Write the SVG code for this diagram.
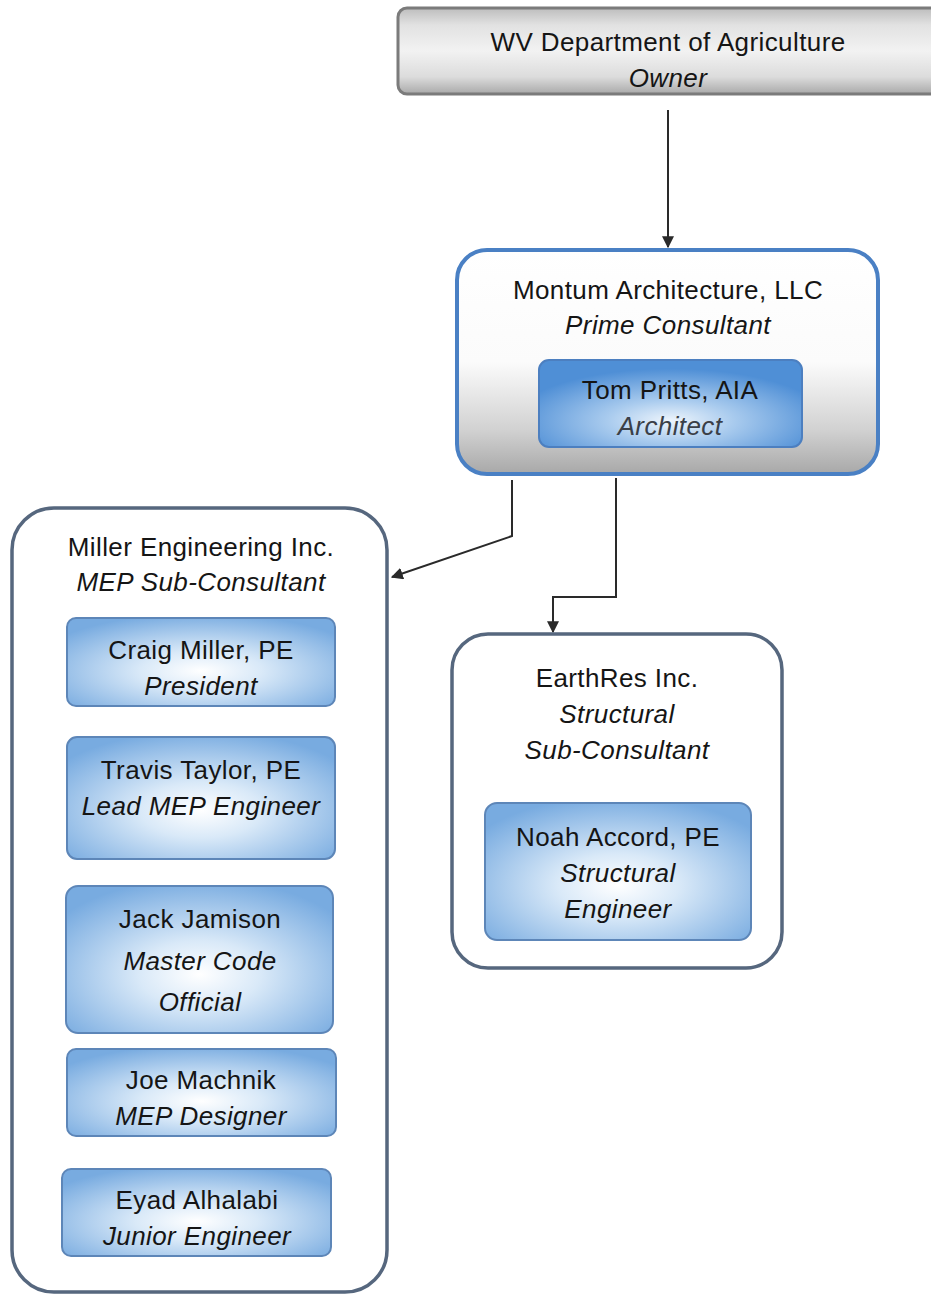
<svg xmlns="http://www.w3.org/2000/svg" width="931" height="1295" viewBox="0 0 931 1295">
<defs>
<linearGradient id="gOwner" x1="0" y1="0" x2="0" y2="1">
<stop offset="0" stop-color="#bdbdbd"/>
<stop offset="0.2" stop-color="#e2e2e2"/>
<stop offset="0.5" stop-color="#f2f2f2"/>
<stop offset="0.8" stop-color="#dcdcdc"/>
<stop offset="1" stop-color="#a9a9a9"/>
</linearGradient>
<linearGradient id="gPrime" x1="0" y1="0" x2="0" y2="1">
<stop offset="0" stop-color="#ffffff"/>
<stop offset="0.5" stop-color="#fbfbfb"/>
<stop offset="0.8" stop-color="#d2d2d2"/>
<stop offset="1" stop-color="#a8a8a8"/>
</linearGradient>
<radialGradient id="gPerson" cx="0.5" cy="0.6" r="0.65">
<stop offset="0" stop-color="#ffffff"/>
<stop offset="0.35" stop-color="#d9e9f8"/>
<stop offset="1" stop-color="#78abe0"/>
</radialGradient>
<radialGradient id="gTom" cx="0.5" cy="0.7" r="0.6">
<stop offset="0" stop-color="#eef5fc"/>
<stop offset="0.4" stop-color="#a9cbee"/>
<stop offset="1" stop-color="#4f8fd6"/>
</radialGradient>
<marker id="arr" viewBox="0 0 10 10" refX="9" refY="5" markerWidth="12" markerHeight="12" orient="auto" markerUnits="userSpaceOnUse">
<path d="M0,0 L10,5 L0,10 z" fill="#2a2a2a"/>
</marker>
<style>
text{font-family:"Liberation Sans",Arial,sans-serif;font-size:26px;letter-spacing:0.4px;fill:#151515;text-anchor:middle}
.it{font-style:italic}
.person{fill:url(#gPerson);stroke:#5d86b8;stroke-width:2}
.firm{fill:#ffffff;stroke:#56677e;stroke-width:3.5}
.conn{fill:none;stroke:#2a2a2a;stroke-width:2}
</style>
</defs>
<rect width="931" height="1295" fill="#ffffff"/>

<g id="connectors">
<path class="conn" d="M668,110 V247" marker-end="url(#arr)"/>
<path class="conn" d="M512,480 V536 L392,577" marker-end="url(#arr)"/>
<path class="conn" d="M616,478 V597 H553 V632" marker-end="url(#arr)"/>
</g>

<g id="owner">
<rect x="398" y="8" width="545" height="86" rx="9" fill="url(#gOwner)" stroke="#7b7b7b" stroke-width="3"/>
<text x="668" y="51">WV Department of Agriculture</text>
<text x="668" y="87" class="it">Owner</text>
</g>

<g id="montum">
<rect x="457" y="250" width="421" height="224" rx="30" fill="url(#gPrime)" stroke="#4a80c4" stroke-width="4"/>
<text x="668" y="299">Montum Architecture, LLC</text>
<text x="668" y="334" class="it">Prime Consultant</text>
<g id="tom">
<rect x="539" y="360" width="263" height="87" rx="10" fill="url(#gTom)" stroke="#4c7fc0" stroke-width="2"/>
<text x="670" y="399">Tom Pritts, AIA</text>
<text x="670" y="435" class="it" style="fill:#3a3f48">Architect</text>
</g>
</g>

<g id="miller">
<rect x="12" y="508" width="375" height="784" rx="42" class="firm"/>
<text x="201" y="556">Miller Engineering Inc.</text>
<text x="201" y="591" class="it">MEP Sub-Consultant</text>
</g>

<g id="craig">
<rect x="67" y="618" width="268" height="88" rx="9" class="person"/>
<text x="201" y="659">Craig Miller, PE</text>
<text x="201" y="695" class="it">President</text>
</g>

<g id="travis">
<rect x="67" y="737" width="268" height="122" rx="10" class="person"/>
<text x="201" y="779">Travis Taylor, PE</text>
<text x="201" y="815" class="it">Lead MEP Engineer</text>
</g>

<g id="jack">
<rect x="66" y="886" width="267" height="147" rx="12" class="person"/>
<text x="200" y="928">Jack Jamison</text>
<text x="200" y="970" class="it">Master Code</text>
<text x="200" y="1011" class="it">Official</text>
</g>

<g id="joe">
<rect x="67" y="1049" width="269" height="87" rx="9" class="person"/>
<text x="201" y="1089">Joe Machnik</text>
<text x="201" y="1125" class="it">MEP Designer</text>
</g>

<g id="eyad">
<rect x="62" y="1169" width="269" height="87" rx="9" class="person"/>
<text x="197" y="1209">Eyad Alhalabi</text>
<text x="197" y="1245" class="it">Junior Engineer</text>
</g>

<g id="earthres">
<rect x="452" y="634" width="330" height="334" rx="36" class="firm"/>
<text x="617" y="687">EarthRes Inc.</text>
<text x="617" y="723" class="it">Structural</text>
<text x="617" y="759" class="it">Sub-Consultant</text>
</g>

<g id="noah">
<rect x="485" y="803" width="266" height="137" rx="12" class="person"/>
<text x="618" y="846">Noah Accord, PE</text>
<text x="618" y="882" class="it">Structural</text>
<text x="618" y="918" class="it">Engineer</text>
</g>
</svg>
